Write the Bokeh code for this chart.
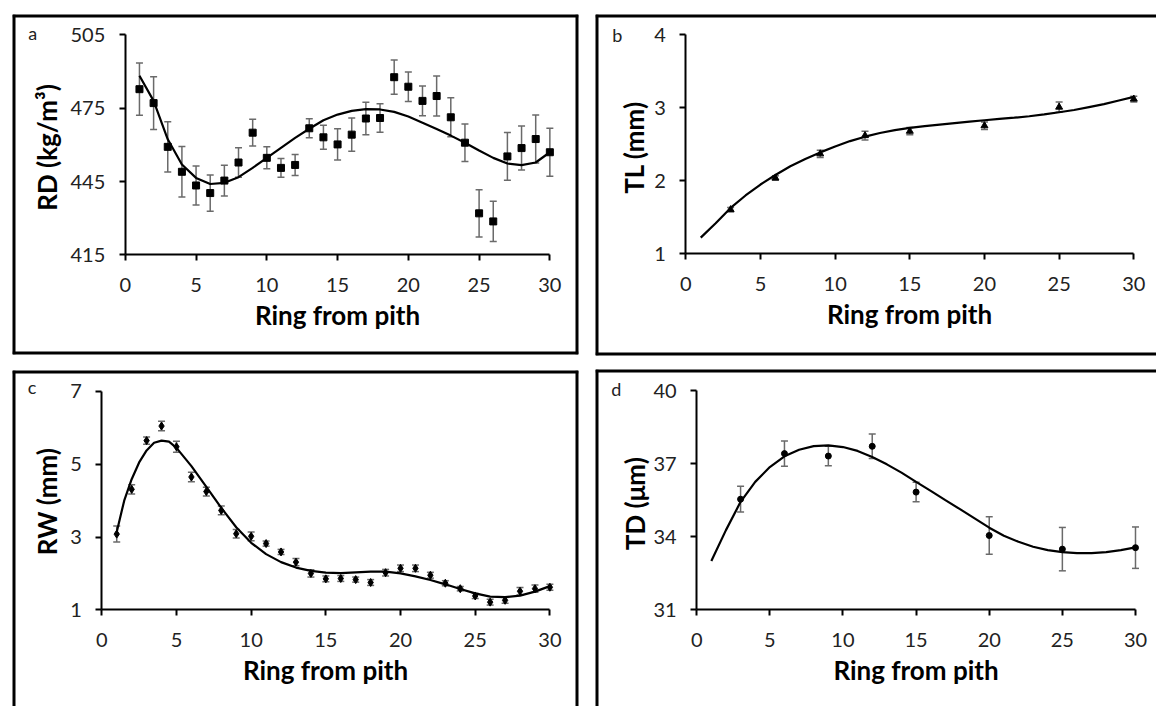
import math
from bokeh.plotting import figure
from bokeh.models import (LinearAxis, FixedTicker, ColumnDataSource, Whisker,
                          TeeHead, Label, Range1d, Span)
from bokeh.layouts import row, column
from bokeh.embed import file_html
from bokeh.resources import INLINE

# ---------------- data ----------------
rings_a = list(range(1, 31))
rd_mean = [482.8, 477.1, 459.2, 449.0, 443.4, 440.3, 445.4, 452.8, 465.0, 454.7,
           450.6, 451.8, 466.8, 463.1, 460.2, 464.2, 470.8, 471.0, 487.7, 483.8,
           478.0, 480.0, 471.3, 460.9, 432.0, 428.7, 455.3, 458.7, 462.4, 457.0]
rd_err = [10.7, 10.8, 10.3, 10.3, 8.0, 7.4, 6.3, 6.0, 5.5, 4.5,
          3.8, 4.3, 3.9, 4.9, 6.4, 6.8, 6.6, 5.8, 7.0, 6.0,
          6.1, 8.2, 8.0, 7.7, 9.7, 8.2, 9.8, 9.0, 9.8, 9.8]
rd_fit_x = list(range(1, 31))
rd_fit = [488.3, 478.0, 462.3, 452.0, 446.5, 444.0, 444.5, 446.8, 450.6, 454.7,
          458.8, 462.9, 466.6, 470.1, 472.4, 473.9, 474.6, 474.5, 473.5, 471.6,
          469.1, 466.5, 463.8, 460.9, 457.7, 454.7, 452.4, 451.7, 452.8, 457.0]

rings_b = [3, 6, 9, 12, 15, 20, 25, 30]
tl_mean = [1.606, 2.04, 2.37, 2.62, 2.68, 2.755, 3.01, 3.12]
tl_err = [0.03, 0.03, 0.05, 0.06, 0.05, 0.05, 0.07, 0.04]
tl_fit_x = list(range(1, 31))
tl_fit = [1.223, 1.42, 1.63, 1.80, 1.95, 2.08, 2.20, 2.30, 2.39, 2.47,
          2.545, 2.605, 2.655, 2.695, 2.725, 2.75, 2.77, 2.79, 2.81, 2.83,
          2.85, 2.865, 2.885, 2.91, 2.94, 2.97, 3.01, 3.05, 3.10, 3.15]

rings_c = list(range(1, 31))
rw_mean = [3.08, 4.31, 5.65, 6.05, 5.48, 4.65, 4.25, 3.73, 3.09, 3.02,
           2.82, 2.59, 2.31, 2.00, 1.85, 1.86, 1.83, 1.75, 2.02, 2.14,
           2.14, 1.95, 1.73, 1.58, 1.38, 1.21, 1.26, 1.51, 1.58, 1.62]
rw_err = [0.22, 0.13, 0.10, 0.13, 0.15, 0.13, 0.12, 0.12, 0.12, 0.12,
          0.07, 0.07, 0.10, 0.10, 0.08, 0.08, 0.07, 0.08, 0.09, 0.09,
          0.09, 0.08, 0.07, 0.06, 0.07, 0.08, 0.08, 0.10, 0.10, 0.08]
rw_fit_x = [1, 1.5, 2, 2.5, 3, 3.5, 4, 4.5, 5, 6, 7, 8, 9, 10, 11, 12, 13, 14,
            15, 16, 17, 18, 19, 20, 21, 22, 23, 24, 25, 26, 27, 28, 29, 30]
rw_fit = [3.14, 4.00, 4.59, 5.05, 5.38, 5.59, 5.65, 5.62, 5.45, 4.95, 4.38, 3.80,
          3.27, 2.84, 2.53, 2.31, 2.16, 2.07, 2.02, 2.01, 2.03, 2.05, 2.05, 2.00,
          1.92, 1.82, 1.70, 1.57, 1.45, 1.36, 1.35, 1.39, 1.50, 1.65]

rings_d = [3, 6, 9, 12, 15, 20, 25, 30]
td_mean = [35.54, 37.41, 37.31, 37.71, 35.83, 34.05, 33.49, 33.55]
td_err = [0.53, 0.52, 0.40, 0.50, 0.40, 0.77, 0.89, 0.85]
td_fit_x = list(range(1, 31))
td_fit = [33.0, 34.27, 35.43, 36.25, 36.86, 37.30, 37.57, 37.72, 37.75, 37.68,
          37.52, 37.27, 36.97, 36.63, 36.25, 35.88, 35.50, 35.13, 34.75, 34.37,
          34.04, 33.79, 33.59, 33.45, 33.37, 33.33, 33.33, 33.37, 33.45, 33.56]

x_ticks = [0, 5, 10, 15, 20, 25, 30]
y_ticks_a = [415, 445, 475, 505]
y_ticks_b = [1, 2, 3, 4]
y_ticks_c = [1, 3, 5, 7]
y_ticks_d = [31, 34, 37, 40]

FONT = "Lato"
ERR_COLOR = "#6a6a6a"


def make_panel(width, height, borders, xr, yr, sides, xs, ys, err, fx, fy,
               marker, msize, yticks, ylabel, ylabel_pos, letter, letter_pos):
    p = figure(width=width, height=height, output_backend="svg",
               toolbar_location=None, x_axis_type=None, y_axis_type=None,
               x_range=Range1d(*xr), y_range=Range1d(*yr),
               min_border_left=borders[0], min_border_right=borders[1],
               min_border_top=borders[2], min_border_bottom=borders[3])
    p.outline_line_color = None
    p.background_fill_color = "white"
    p.border_fill_color = "white"

    # panel frame (box) drawn on the visible sides only
    bw = 6
    if "left" in sides:
        p.add_layout(Span(location=xr[0], dimension="height",
                          line_color="black", line_width=bw))
    if "right" in sides:
        p.add_layout(Span(location=xr[1], dimension="height",
                          line_color="black", line_width=bw))
    if "top" in sides:
        p.add_layout(Span(location=yr[1], dimension="width",
                          line_color="black", line_width=bw))
    if "bottom" in sides:
        p.add_layout(Span(location=yr[0], dimension="width",
                          line_color="black", line_width=bw))

    yax = LinearAxis(fixed_location=0, bounds=(yticks[0], yticks[-1]),
                     ticker=FixedTicker(ticks=yticks, minor_ticks=[]))
    xax = LinearAxis(fixed_location=yticks[0], bounds=(0, 30),
                     ticker=FixedTicker(ticks=x_ticks, minor_ticks=[]))
    for ax in (xax, yax):
        ax.axis_line_width = 2
        ax.axis_line_color = "black"
        ax.major_tick_line_width = 2
        ax.major_tick_line_color = "black"
        ax.major_tick_out = 6
        ax.major_tick_in = 0
        ax.minor_tick_line_color = None
        ax.major_label_text_font = FONT
        ax.major_label_text_font_size = "20px"
        ax.major_label_text_color = "#222222"
        ax.axis_label_text_font = FONT
        ax.axis_label_text_font_style = "bold"
        ax.axis_label_text_font_size = "26px"
        ax.axis_label_text_color = "black"
    yax.major_label_standoff = 14
    xax.major_label_standoff = 17
    xax.axis_label = "Ring from pith"
    xax.axis_label_standoff = 4
    p.add_layout(yax, "left")
    p.add_layout(xax, "below")

    p.add_layout(Label(x=ylabel_pos[0], y=ylabel_pos[1], text=ylabel,
                       angle=math.pi / 2, text_align="center",
                       text_baseline="middle", text_font=FONT,
                       text_font_style="bold", text_font_size="26px",
                       text_color="black"))

    src = ColumnDataSource(dict(x=xs, y=ys,
                                upper=[v + e for v, e in zip(ys, err)],
                                lower=[v - e for v, e in zip(ys, err)]))
    w = Whisker(source=src, base="x", upper="upper", lower="lower",
                line_color=ERR_COLOR, line_width=1.5,
                upper_head=TeeHead(size=7, line_color=ERR_COLOR, line_width=1.5),
                lower_head=TeeHead(size=7, line_color=ERR_COLOR, line_width=1.5))
    p.add_layout(w)
    p.line(fx, fy, line_color="black", line_width=2.2)
    p.scatter("x", "y", source=src, marker=marker, size=msize,
              fill_color="black", line_color="black")

    p.add_layout(Label(x=letter_pos[0], y=letter_pos[1], text=letter,
                       text_font=FONT, text_font_size="18px",
                       text_color="#222222", text_baseline="alphabetic"))
    return p


pa = make_panel(586, 362, (11, 8, 14, 8), (-7.971, 32.024), (374.25, 513.35),
                ("left", "right", "top", "bottom"),
                rings_a, rd_mean, rd_err, rd_fit_x, rd_fit, "square", 7,
                y_ticks_a, "RD (kg/m³)", (-5.50, 458.94), "a", (-6.85, 505.6))
pb = make_panel(570, 362, (9, 0, 14, 7), (-6.047, 31.52), (-0.391, 4.278),
                ("left", "top", "bottom"),
                rings_b, tl_mean, tl_err, tl_fit_x, tl_fit, "triangle", 7,
                y_ticks_b, "TL (mm)", (-3.50, 2.457), "b", (-4.93, 4.0))
pc = make_panel(586, 344, (12, 8, 8, 0), (-5.978, 31.915), (-1.658, 7.577),
                ("left", "right", "top"),
                rings_c, rw_mean, rw_err, rw_fit_x, rw_fit, "diamond", 8,
                y_ticks_c, "RW (mm)", (-3.67, 3.976), "c", (-4.95, 7.13))
pd_ = make_panel(570, 344, (9, 0, 7, 0), (-6.919, 31.436), (27.032, 40.862),
                 ("left", "top"),
                 rings_d, td_mean, td_err, td_fit_x, td_fit, "circle", 6,
                 y_ticks_d, "TD (μm)", (-4.25, 35.363), "d", (-5.85, 40.06))

layout = row(column(pa, pc), column(pb, pd_))
open("out.html", "w").write(file_html(layout, INLINE))
